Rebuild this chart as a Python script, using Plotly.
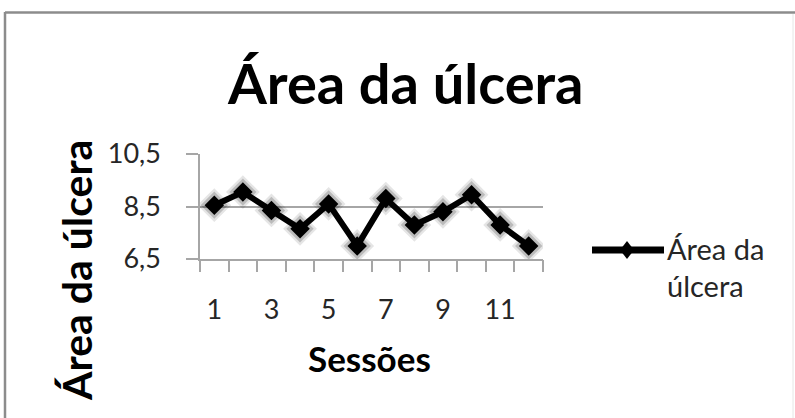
import plotly.graph_objects as go

# Ulcer area per treatment session
sessoes = list(range(1, 13))
area_ulcera = [8.55, 9.05, 8.35, 7.65, 8.6, 7.0, 8.8, 7.8, 8.3, 8.95, 7.8, 7.0]
x_tick_vals = [1, 3, 5, 7, 9, 11]
x_tick_text = ["1", "3", "5", "7", "9", "11"]
y_tick_vals = [6.5, 8.5, 10.5]

W, H = 795, 418
L, R, T, B = 200, 252, 154, 159
PW, PH = W - L - R, H - T - B


def xp(px):
    return (px - L) / PW


def yp(py):
    return (H - B - py) / PH


FONT = "Lato, 'Open Sans', sans-serif"
GRID = "#a6a6a6"
TEXT = "#262626"

fig = go.Figure()

# soft halo around the markers
for size, alpha in [(26, 0.10), (21, 0.18)]:
    fig.add_trace(go.Scatter(
        x=sessoes, y=area_ulcera, mode="markers",
        marker=dict(symbol="diamond", size=size, color=f"rgba(0,0,0,{alpha})", line=dict(width=0)),
        hoverinfo="skip", showlegend=False,
    ))

fig.add_trace(go.Scatter(
    x=sessoes, y=area_ulcera, mode="lines+markers", name="Área da úlcera",
    line=dict(color="#000000", width=6),
    marker=dict(symbol="diamond", size=15, color="#000000", line=dict(width=0)),
    showlegend=False,
))

# invisible trace that carries the boundary tick marks of the category axis
fig.add_trace(go.Scatter(x=[None], y=[None], xaxis="x2", yaxis="y", showlegend=False, hoverinfo="skip"))

fig.update_layout(
    width=W, height=H,
    margin=dict(l=L, r=R, t=T, b=B, pad=0),
    paper_bgcolor="white", plot_bgcolor="white",
    separators=",.",
    showlegend=False,
    xaxis=dict(
        range=[0.5, 12.5], tickmode="array", tickvals=x_tick_vals, ticktext=x_tick_text,
        ticks="", showgrid=False, zeroline=False,
        showline=True, linecolor=GRID, linewidth=1.5,
        tickfont=dict(family=FONT, size=27, color=TEXT),
        ticklabelstandoff=26,
    ),
    xaxis2=dict(
        range=[0.5, 12.5], overlaying="x", anchor="y", side="bottom",
        tickmode="array", tickvals=[i + 0.5 for i in range(0, 13)],
        ticks="outside", ticklen=12, tickwidth=1.5, tickcolor=GRID,
        showticklabels=False, showgrid=False, zeroline=False, showline=False,
    ),
    yaxis=dict(
        range=[6.5, 10.5], tickmode="array", tickvals=y_tick_vals, tickformat=".1f",
        ticks="outside", ticklen=12, tickwidth=1.5, tickcolor=GRID,
        showgrid=True, gridcolor=GRID, gridwidth=1.5, zeroline=False,
        showline=True, linecolor=GRID, linewidth=1.5,
        tickfont=dict(family=FONT, size=27, color=TEXT),
        ticklabelstandoff=20,
    ),
)

# chart frame
fig.add_shape(type="line", xref="paper", yref="paper", x0=xp(5), x1=xp(5), y0=yp(12), y1=yp(430),
              line=dict(color="#8c8c8c", width=2.5))
fig.add_shape(type="line", xref="paper", yref="paper", x0=xp(5), x1=xp(800), y0=yp(12.5), y1=yp(12.5),
              line=dict(color="#8c8c8c", width=2.5))
fig.add_shape(type="line", xref="paper", yref="paper", x0=xp(793), x1=xp(793), y0=yp(14), y1=yp(430),
              line=dict(color="#e6e6e6", width=1))

# legend key
fig.add_shape(type="line", xref="paper", yref="paper", x0=xp(592), x1=xp(664), y0=yp(250), y1=yp(250),
              line=dict(color="#000000", width=7))
cx, cy = 627, 250
fig.add_shape(type="path", xref="paper", yref="paper",
              path=f"M {xp(cx - 7)} {yp(cy)} L {xp(cx)} {yp(cy - 9)} L {xp(cx + 7)} {yp(cy)} L {xp(cx)} {yp(cy + 9)} Z",
              fillcolor="#000000", line=dict(width=0))

annotations = [
    dict(text="Área da úlcera", x=xp(405), y=yp(82), font=dict(family=FONT, size=56, color="#000000", weight="bold")),
    dict(text="Área da úlcera", x=xp(76), y=yp(271), textangle=-90,
         font=dict(family=FONT, size=41, color="#000000", weight="bold")),
    dict(text="Sessões", x=xp(369), y=yp(358), font=dict(family=FONT, size=35, color="#000000", weight="bold")),
    dict(text="Área da", x=xp(665), y=yp(248), xanchor="left",
         font=dict(family=FONT, size=29, color=TEXT)),
    dict(text="úlcera", x=xp(665), y=yp(285), xanchor="left",
         font=dict(family=FONT, size=29, color=TEXT)),
]
for a in annotations:
    a.setdefault("xanchor", "center")
    fig.add_annotation(xref="paper", yref="paper", yanchor="middle", showarrow=False, **a)

fig.write_html("out.html")
